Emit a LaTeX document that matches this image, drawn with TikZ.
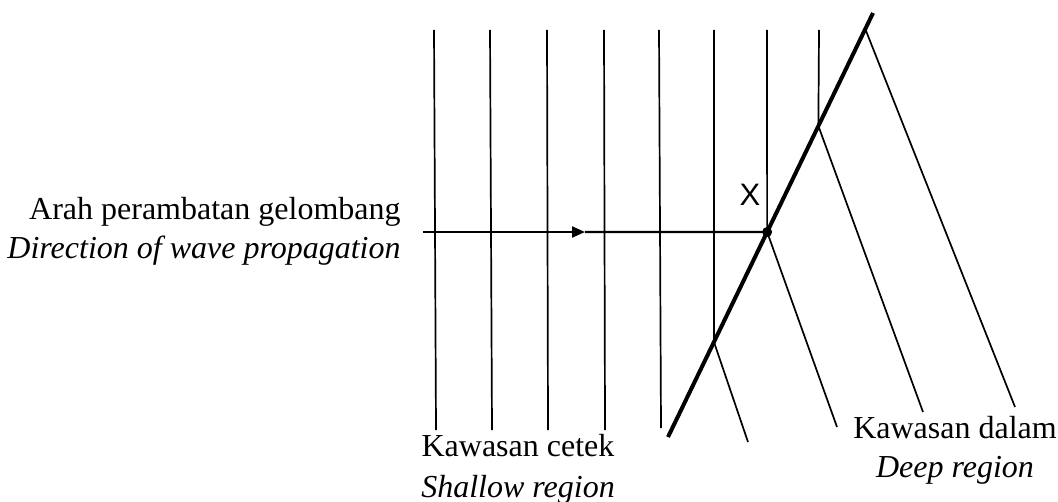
\documentclass[tikz,border=0pt]{standalone}
\usepackage{fontspec}
\setmainfont{Liberation Serif}
\newfontfamily\markfont{Liberation Sans}
\usepackage{tikz}
\usetikzlibrary{arrows.meta,positioning,calc}

\begin{document}
\begin{tikzpicture}[
  x=0.5pt,
  y=-0.5pt,
  wavefront/.style={
    line width=0.85pt,
    draw=black
  },
  boundaryline/.style={
    line width=2pt,
    draw=black
  },
  rayline/.style={
    line width=1.1pt,
    draw=black
  },
  rayarrow/.style={
    -{Triangle[length=6.5pt,width=5.5pt]},
    line width=1.1pt,
    draw=black
  },
  sidelabel/.style={
    font=\fontsize{16}{19}\selectfont,
    inner sep=0pt,
    text=black
  }
]
  \useasboundingbox (0,0) rectangle (1058,502);

  % =========================================================================
  % SHALLOW REGION: STRAIGHT WAVEFRONTS
  % =========================================================================
  \draw[wavefront] (434,30) -- (436,430);
  \draw[wavefront] (490,30) -- (492,430);
  \draw[wavefront] (547,30) -- (548,430);
  \draw[wavefront] (604,30) -- (605,430);
  \draw[wavefront] (659,30) -- (661,428);

  % =========================================================================
  % BOUNDARY AND REFRACTED WAVEFRONTS
  % =========================================================================
  \coordinate (b_low) at (668,437);
  \coordinate (b_high) at (873,13);
  \draw[boundaryline] (b_low) -- (b_high);

  \coordinate (hit_a) at ($(b_low)!0.2241!(b_high)$);
  \coordinate (hit_b) at ($(b_low)!0.4835!(b_high)$);
  \coordinate (hit_c) at ($(b_low)!0.7335!(b_high)$);
  \coordinate (hit_d) at ($(b_low)!0.9623!(b_high)$);

  \draw[wavefront] (714,30) -- (hit_a) -- (748,442);
  \draw[wavefront] (767,30) -- (hit_b) -- (837,427);
  \draw[wavefront] (819,30) -- (hit_c) -- (923,412);
  \draw[wavefront] (hit_d) -- (1015,407);

  % =========================================================================
  % PROPAGATION RAY
  % =========================================================================
  \coordinate (ray_start) at (423,232);
  \coordinate (ray_tip) at (585,232);
  \fill (hit_b) circle[radius=2.5pt];
  \node[font=\markfont\fontsize{15.5}{19}\selectfont, inner sep=0pt] (xmark) at (750,195) {X};

  \draw[rayarrow] (ray_start) -- (ray_tip);
  \draw[rayline] (ray_tip) -- (hit_b);

  % =========================================================================
  % LABELS
  % =========================================================================
  \node[sidelabel, anchor=base east] (dir_my) at (401,220) {Arah perambatan gelombang};
  \node[sidelabel, below=19pt of dir_my.base east, anchor=base east] (dir_en) {\itshape Direction of wave propagation};

  \node[sidelabel, anchor=base] (shallow_my) at (518,456) {Kawasan cetek};
  \node[sidelabel, below=20.5pt of shallow_my.base, anchor=base] (shallow_en) {\itshape Shallow region};

  \node[sidelabel, anchor=base] (deep_my) at (955,438) {Kawasan dalam};
  \node[sidelabel, below=19.5pt of deep_my.base, anchor=base] (deep_en) {\itshape Deep region};

\end{tikzpicture}
\end{document}
